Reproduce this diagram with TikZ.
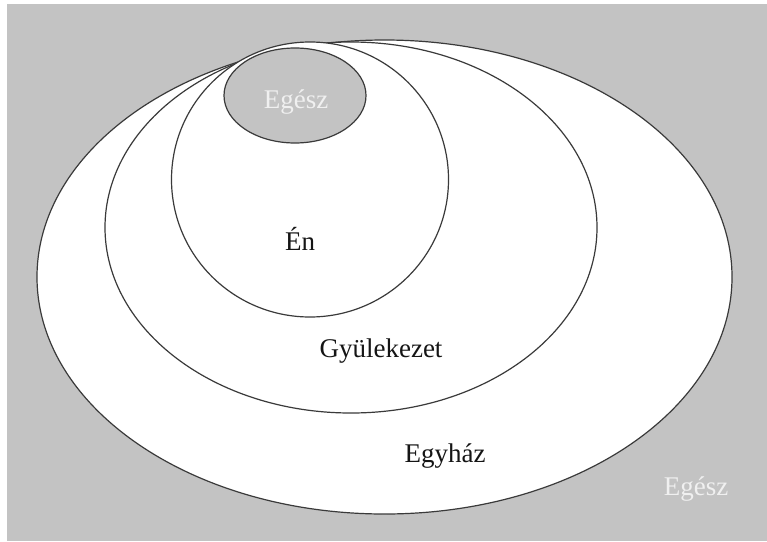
\documentclass[tikz,border=0pt]{standalone}
\usepackage{fontspec}
\setmainfont{Liberation Serif}
\definecolor{bggray}{HTML}{C3C3C3}
\definecolor{lineg}{HTML}{3A3A3A}
\definecolor{lighttxt}{HTML}{F0F0F0}
\definecolor{darktxt}{HTML}{151515}
\begin{document}
\begin{tikzpicture}[x=1pt,y=-1pt,
  ring/.style={draw=lineg,line width=1.2pt,fill=white},
  lbl/.style={font=\fontsize{27}{30}\selectfont,text=darktxt,anchor=base,inner sep=0pt},
  lightlbl/.style={font=\fontsize{27}{30}\selectfont,text=lighttxt,anchor=base,inner sep=0pt}]
\useasboundingbox (0,0) rectangle (767,541);
\fill[white] (0,0) rectangle (767,541);
\fill[bggray] (7,4) rectangle (767,541);
\draw[ring] (384.5,277) ellipse [x radius=347.5,y radius=237];
\draw[ring] (351,227.5) ellipse [x radius=246,y radius=185.5];
\draw[ring] (310,179.5) ellipse [x radius=138.5,y radius=137.5];
\draw[ring,fill=bggray] (295,95.5) ellipse [x radius=71,y radius=47.5];
\node[lightlbl] (egesz1) at (296,108) {Egész};
\node[lbl] (en) at (300,250) {Én};
\node[lbl] (gyul) at (381,357) {Gyülekezet};
\node[lbl] (egyhaz) at (445,462) {Egyház};
\node[lightlbl] (egesz2) at (696,495) {Egész};
\end{tikzpicture}
\end{document}
